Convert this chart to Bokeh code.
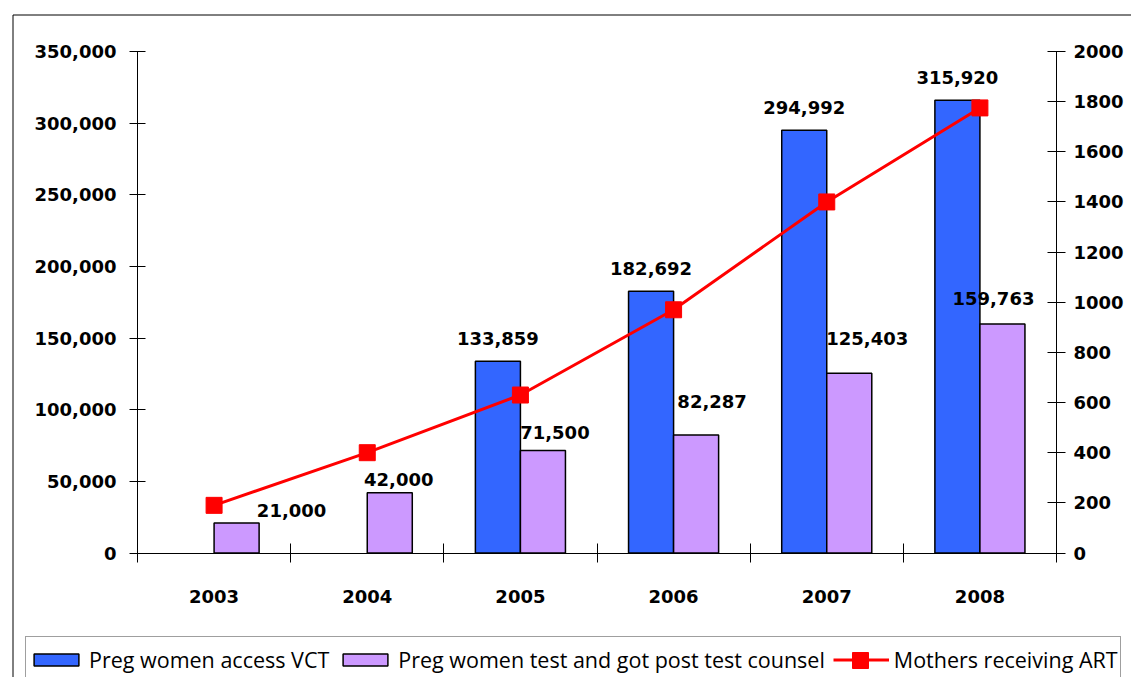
from bokeh.plotting import figure
from bokeh.models import (Range1d, LinearAxis, FixedTicker, NumeralTickFormatter,
                          ColumnDataSource, Legend, LegendItem, BoxAnnotation)
from bokeh.transform import dodge
from bokeh.embed import file_html
from bokeh.resources import INLINE
from bokeh.core.properties import value

# ---- data ----
years = ["2003", "2004", "2005", "2006", "2007", "2008"]
vct = [float("nan"), float("nan"), 133859, 182692, 294992, 315920]   # Preg women access VCT
counsel = [21000, 42000, 71500, 82287, 125403, 159763]               # Preg women test and got post test counsel
art = [190, 400, 630, 970, 1400, 1775]                                # Mothers receiving ART

left_ticks = [0, 50000, 100000, 150000, 200000, 250000, 300000, 350000]
right_ticks = [0, 200, 400, 600, 800, 1000, 1200, 1400, 1600, 1800, 2000]

# label nudges (pixels) for the purple series labels, as placed in the original
counsel_dx = [55, 9, 12, 16, 18, -9]
counsel_dy = [-12, -13, -18, -34, -35, -26]

BAR_W = 0.294
FONT = "DejaVu Sans"

# ---- layout (pixels) ----
W, H = 1131, 677
PL, PR, PT, PB = 137, 1056, 51, 552.5     # plot area edges in the canvas
NCAT = len(years)
LMAX, RMAX = 350000, 2000

xu = NCAT / (PR - PL)
x_range = Range1d(-PL * xu, NCAT + (W - PR) * xu)
yu = LMAX / (PB - PT)
y_range = Range1d(-(H - PB) * yu, LMAX + PT * yu)
ru = RMAX / (PB - PT)
art_range = Range1d(-(H - PB) * ru, RMAX + PT * ru)

xpos = [i + 0.5 for i in range(NCAT)]

src = ColumnDataSource(dict(
    x=xpos, year=years, vct=vct, counsel=counsel, art=art,
    vct_lbl=["" if v != v else f"{int(v):,}" for v in vct],
    counsel_lbl=[f"{v:,}" for v in counsel],
    cdx=counsel_dx, cdy=counsel_dy,
))

p = figure(width=W, height=H, x_range=x_range, y_range=y_range,
           x_axis_type=None, y_axis_type=None, output_backend="svg", toolbar_location=None,
           min_border=0)
p.outline_line_color = None
p.extra_y_ranges = {"art": art_range}

# outer frame
p.add_layout(BoxAnnotation(left=12.5, right=1400, top=14.5, bottom=900,
                           left_units="canvas", right_units="canvas",
                           top_units="canvas", bottom_units="canvas",
                           fill_color=None, fill_alpha=0, line_color="black", line_alpha=1,
                           line_width=1, level="overlay"))

r_blue = p.vbar(x=dodge("x", -BAR_W / 2, range=p.x_range), top="vct", width=BAR_W, source=src,
                fill_color="#3366FF", line_color="black", line_width=1.5)
r_purple = p.vbar(x=dodge("x", BAR_W / 2, range=p.x_range), top="counsel", width=BAR_W, source=src,
                  fill_color="#CC99FF", line_color="black", line_width=1.5)
r_line = p.line(x="x", y="art", source=src, line_color="#FF0000", line_width=3, y_range_name="art")
r_mark = p.scatter(x="x", y="art", source=src, marker="square", size=16,
                   fill_color="#FF0000", line_color="#FF0000", y_range_name="art")

p.text(x=dodge("x", -BAR_W / 2, range=p.x_range), y="vct", text="vct_lbl", source=src,
       text_align="center", text_baseline="alphabetic", y_offset=-23,
       text_font=value(FONT), text_font_style="bold", text_font_size="18px", text_color="black")
p.text(x=dodge("x", BAR_W / 2, range=p.x_range), y="counsel", text="counsel_lbl", source=src,
       text_align="center", text_baseline="alphabetic", x_offset="cdx", y_offset="cdy",
       text_font=value(FONT), text_font_style="bold", text_font_size="18px", text_color="black")

axis_style = dict(axis_line_color="black", axis_line_width=1,
                  major_tick_line_color="black", minor_tick_line_color="black",
                  major_label_text_font=FONT, major_label_text_font_style="bold",
                  major_label_text_font_size="18px", major_label_text_color="black")

yl = LinearAxis(ticker=FixedTicker(ticks=left_ticks), formatter=NumeralTickFormatter(format="0,0"),
                fixed_location=0, bounds=(0, LMAX),
                major_tick_in=8, major_tick_out=8, minor_tick_in=0, minor_tick_out=0,
                major_label_standoff=13, **axis_style)
p.add_layout(yl, "left")

yr = LinearAxis(y_range_name="art", ticker=FixedTicker(ticks=right_ticks),
                fixed_location=NCAT, bounds=(0, RMAX),
                major_tick_in=9, major_tick_out=9, minor_tick_in=0, minor_tick_out=0,
                major_label_standoff=8, **axis_style)
p.add_layout(yr, "right")

xa = LinearAxis(ticker=FixedTicker(ticks=xpos, minor_ticks=list(range(NCAT + 1))),
                major_label_overrides={x: y for x, y in zip(xpos, years)},
                fixed_location=0, bounds=(0, NCAT),
                major_tick_in=0, major_tick_out=0, minor_tick_in=10, minor_tick_out=9,
                major_label_standoff=28, **axis_style)
p.add_layout(xa, "below")

legend = Legend(items=[
    LegendItem(label="Preg women access VCT", renderers=[r_blue]),
    LegendItem(label="Preg women test and got post test counsel", renderers=[r_purple]),
    LegendItem(label="Mothers receiving ART", renderers=[r_line]),
], location=(25, -5), orientation="horizontal", margin=0,
    border_line_color="#404040", border_line_width=1, background_fill_color="white",
    padding=2, spacing=8, label_standoff=5, glyph_width=56, glyph_height=15, label_height=40,
    label_text_font="Open Sans", label_text_font_size="21.5px", label_text_color="black")
p.add_layout(legend)

# larger square marker for the ART legend entry, laid over its line glyph
legend_marker = Legend(items=[LegendItem(label=" ", renderers=[r_mark])],
                       location=(840, -3), orientation="horizontal", margin=0,
                       border_line_color=None, background_fill_alpha=0,
                       padding=0, label_standoff=0, glyph_width=40, glyph_height=40,
                       label_width=0, label_height=0, label_text_font_size="1px")
p.add_layout(legend_marker)

open("out.html", "w").write(file_html(p, INLINE))
